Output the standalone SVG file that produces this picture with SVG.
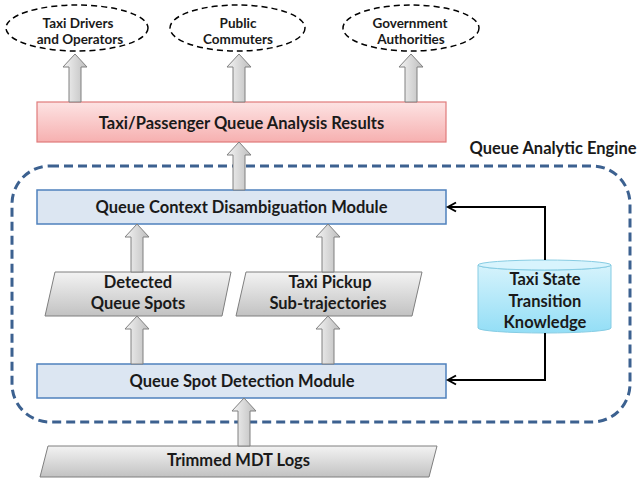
<svg xmlns="http://www.w3.org/2000/svg" width="640" height="479" viewBox="0 0 640 479">
<defs>
<linearGradient id="gArrow" x1="0" y1="0" x2="1" y2="0">
<stop offset="0" stop-color="#f4f4f4"/><stop offset="1" stop-color="#bdbdbd"/>
</linearGradient>
<linearGradient id="gPara" x1="0" y1="0" x2="0" y2="1">
<stop offset="0" stop-color="#f3f3f3"/><stop offset="1" stop-color="#c2c2c2"/>
</linearGradient>
<linearGradient id="gPink" x1="0" y1="0" x2="0" y2="1">
<stop offset="0" stop-color="#fde3e3"/><stop offset="1" stop-color="#f6b0b0"/>
</linearGradient>
<linearGradient id="gCyl" x1="0" y1="0" x2="0" y2="1">
<stop offset="0" stop-color="#d6f3fc"/><stop offset="1" stop-color="#93def6"/>
</linearGradient>
<path id="upArrow" d="M-6,48 V13 H-12 L0,0 L12,13 H6 V48 Z"/>
<marker id="open" markerWidth="12" markerHeight="12" refX="9" refY="6" orient="auto" markerUnits="userSpaceOnUse">
<path d="M1,1.5 L9,6 L1,10.5" fill="none" stroke="#000" stroke-width="2"/>
</marker>
</defs>
<style>
text{font-family:Lato,"Open Sans","Liberation Sans",sans-serif;font-weight:bold;fill:#1a1a1a;text-anchor:middle}
.t13{font-size:13.5px}
.t15{font-size:16.5px}
.arr{fill:url(#gArrow);stroke:#808080;stroke-width:1}
.aud{fill:#fff;stroke:#000;stroke-width:1.5;stroke-dasharray:6 4}
.mod{fill:#dce6f2;stroke:#4f81bd;stroke-width:1.5}
.para{fill:url(#gPara);stroke:#7f7f7f;stroke-width:1}
.conn{fill:none;stroke:#000;stroke-width:2}
</style>

<g id="engine">
<rect x="12" y="166" width="618" height="256" rx="38" ry="38" fill="none" stroke="#3c6190" stroke-width="3" stroke-dasharray="9 5"/>
<text class="t15" x="553" y="154">Queue Analytic Engine</text>
</g>

<g id="drivers">
<ellipse class="aud" cx="77" cy="28" rx="71" ry="23"/>
<text class="t13" x="78" y="27.5">Taxi Drivers</text>
<text class="t13" x="80" y="43.5">and Operators</text>
</g>
<g id="commuters">
<ellipse class="aud" cx="237.5" cy="28" rx="67.5" ry="23"/>
<text class="t13" x="238" y="27.5">Public</text>
<text class="t13" x="238" y="43.5">Commuters</text>
</g>
<g id="government">
<ellipse class="aud" cx="411" cy="28" rx="68" ry="23"/>
<text class="t13" x="410" y="27.5">Government</text>
<text class="t13" x="411" y="43.5">Authorities</text>
</g>

<g id="results">
<rect x="37" y="102" width="409" height="40" fill="url(#gPink)" stroke="#e07b7b" stroke-width="1.2"/>
<text class="t15" x="241.5" y="129">Taxi/Passenger Queue Analysis Results</text>
</g>

<g id="context">
<rect class="mod" x="37" y="190" width="409" height="34"/>
<text class="t15" x="241.5" y="213">Queue Context Disambiguation Module</text>
</g>

<g id="spots">
<path class="para" d="M55,272 H231 L222,316 H45 Z"/>
<text class="t15" x="138" y="288">Detected</text>
<text class="t15" x="138" y="309">Queue Spots</text>
</g>

<g id="subtraj">
<path class="para" d="M246,272 H422 L412,316 H236 Z"/>
<text class="t15" x="330" y="288">Taxi Pickup</text>
<text class="t15" x="328" y="309">Sub-trajectories</text>
</g>

<g id="knowledge">
<path d="M478,265 A66.5,5 0 0 0 611,265 V328 A66.5,5 0 0 1 478,328 Z" fill="url(#gCyl)" stroke="#86cce3" stroke-width="1"/>
<ellipse cx="544.5" cy="265" rx="66.5" ry="5" fill="#d8f4fd" stroke="#86cce3" stroke-width="1"/>
<text class="t15" x="545" y="285">Taxi State</text>
<text class="t15" x="545" y="307">Transition</text>
<text class="t15" x="545" y="328">Knowledge</text>
</g>

<g id="detection">
<rect class="mod" x="37" y="364" width="409" height="34"/>
<text class="t15" x="242" y="387">Queue Spot Detection Module</text>
</g>

<g id="logs">
<path class="para" d="M48,446 H437 L429,477 H40 Z"/>
<text class="t15" x="238.5" y="466">Trimmed MDT Logs</text>
</g>

<g id="connectors">
<use href="#upArrow" class="arr" x="75" y="54"/>
<use href="#upArrow" class="arr" x="239" y="54"/>
<use href="#upArrow" class="arr" x="411" y="54"/>
<use href="#upArrow" class="arr" x="239" y="142"/>
<use href="#upArrow" class="arr" x="137" y="224"/>
<use href="#upArrow" class="arr" x="328" y="224"/>
<use href="#upArrow" class="arr" x="137" y="316"/>
<use href="#upArrow" class="arr" x="328" y="316"/>
<use href="#upArrow" class="arr" x="244" y="398"/>
<path class="conn" d="M545,260 V207 H448" marker-end="url(#open)"/>
<path class="conn" d="M545,333 V380 H448" marker-end="url(#open)"/>
</g>
</svg>
